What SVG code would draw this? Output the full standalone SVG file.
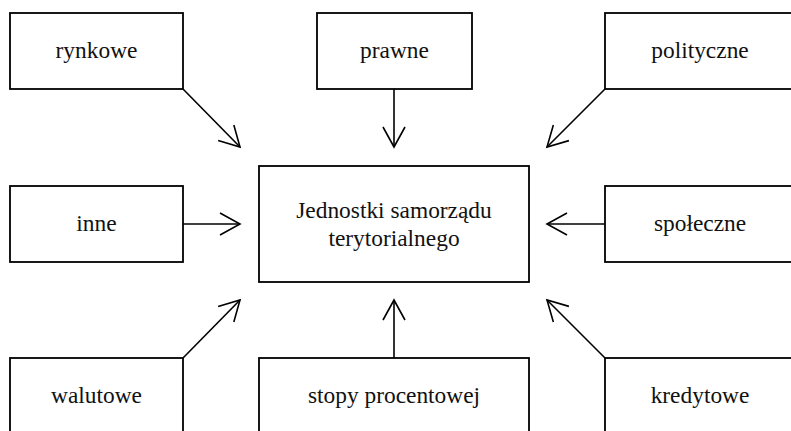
<svg xmlns="http://www.w3.org/2000/svg" width="791" height="431" viewBox="0 0 791 431">
<style>
.box{fill:#fff;stroke:#000;stroke-width:1.8}
.lbl{font-family:'Liberation Serif',serif;font-size:23.4px;fill:#111;text-anchor:middle}
.con{stroke:#000;stroke-width:1.6;fill:none;marker-end:url(#ah)}
</style>
<defs>
<marker id="ah" markerUnits="userSpaceOnUse" markerWidth="30" markerHeight="30" viewBox="-25 -15 30 30" refX="0" refY="0" orient="auto" overflow="visible">
<path d="M-20,-11 L0,0 L-20,11" fill="none" stroke="#000" stroke-width="1.6"/>
</marker>
</defs>
<g id="connectors">
<line class="con" x1="183" y1="89" x2="240" y2="147"/>
<line class="con" x1="394" y1="89" x2="394" y2="147"/>
<line class="con" x1="605" y1="89" x2="547" y2="147"/>
<line class="con" x1="183" y1="224" x2="240" y2="224"/>
<line class="con" x1="605" y1="224" x2="547" y2="224"/>
<line class="con" x1="183" y1="358" x2="240" y2="300"/>
<line class="con" x1="394" y1="358" x2="394" y2="300"/>
<line class="con" x1="605" y1="358" x2="547" y2="300"/>
</g>
<g id="center"><rect class="box" x="259" y="166" width="270" height="116"/>
<text class="lbl" x="394" y="218">Jednostki samorządu</text>
<text class="lbl" x="394" y="246">terytorialnego</text></g>
<g id="rynkowe"><rect class="box" x="10" y="13" width="173" height="76"/><text class="lbl" x="96.5" y="58">rynkowe</text></g>
<g id="prawne"><rect class="box" x="317" y="13" width="155" height="76"/><text class="lbl" x="394.5" y="58">prawne</text></g>
<g id="polityczne"><rect class="box" x="605" y="13" width="190" height="76"/><text class="lbl" x="700" y="58">polityczne</text></g>
<g id="inne"><rect class="box" x="10" y="186" width="173" height="76"/><text class="lbl" x="96.5" y="231">inne</text></g>
<g id="spoleczne"><rect class="box" x="605" y="186" width="190" height="76"/><text class="lbl" x="700" y="231">społeczne</text></g>
<g id="walutowe"><rect class="box" x="10" y="358" width="173" height="80"/><text class="lbl" x="96.5" y="403">walutowe</text></g>
<g id="stopy"><rect class="box" x="259" y="358" width="270" height="80"/><text class="lbl" x="394" y="403">stopy procentowej</text></g>
<g id="kredytowe"><rect class="box" x="605" y="358" width="190" height="80"/><text class="lbl" x="700" y="403">kredytowe</text></g>
</svg>
